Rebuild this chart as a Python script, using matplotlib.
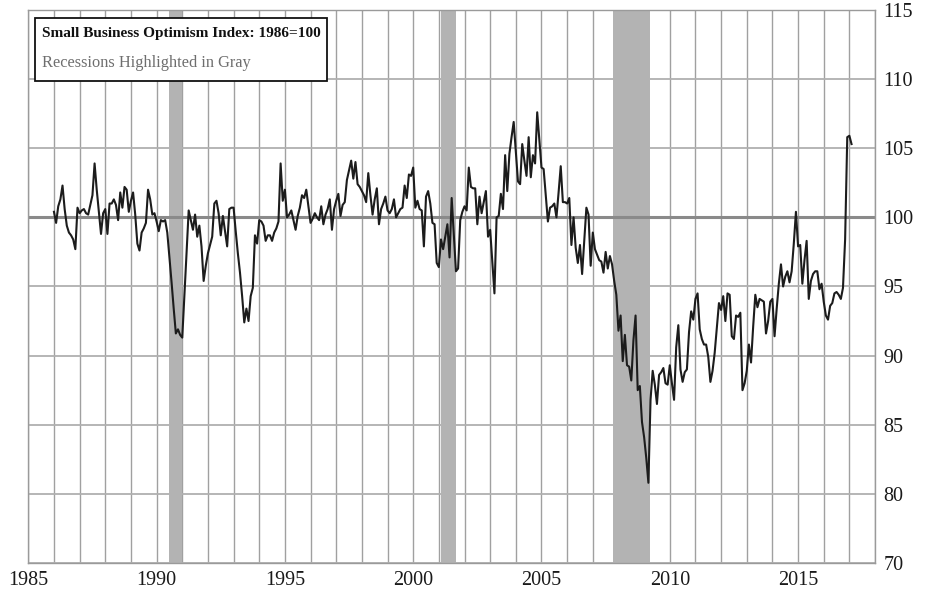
import numpy as np
import matplotlib.pyplot as plt
import matplotlib.patches as mpatches

# NFIB small business optimism index, monthly from Jan 1986 (1986=100)
start_year = 1986
optimism = [
    100.4, 99.6, 100.8, 101.3, 102.3, 100.6, 99.4, 98.9, 98.7, 98.4, 97.7, 100.7,   # 1986
    100.3, 100.5, 100.6, 100.3, 100.2, 100.9, 101.6, 103.9, 102.0, 100.4, 98.8, 100.3,  # 1987
    100.6, 98.8, 101.0, 101.0, 101.3, 100.9, 99.8, 101.8, 100.7, 102.2, 102.0, 100.4,  # 1988
    101.2, 101.8, 100.2, 98.1, 97.6, 98.9, 99.2, 99.6, 102.0, 101.3, 100.2, 100.3,    # 1989
    99.7, 99.0, 99.8, 99.7, 99.8, 98.9, 97.1, 95.3, 93.4, 91.6, 91.9, 91.5,           # 1990
    91.3, 94.3, 97.4, 100.5, 99.8, 99.1, 100.2, 98.6, 99.4, 97.9, 95.4, 96.5,         # 1991
    97.4, 98.0, 98.6, 101.0, 101.2, 100.3, 98.7, 100.1, 99.0, 97.9, 100.6, 100.7,     # 1992
    100.7, 99.0, 97.4, 96.0, 94.3, 92.4, 93.4, 92.5, 94.3, 94.9, 98.7, 98.1,          # 1993
    99.8, 99.7, 99.4, 98.3, 98.7, 98.7, 98.3, 98.9, 99.2, 99.7, 103.9, 101.2,         # 1994
    102.0, 100.0, 100.2, 100.5, 99.8, 99.1, 100.1, 100.7, 101.6, 101.4, 102.0, 100.8,  # 1995
    99.6, 99.9, 100.3, 100.0, 99.8, 100.8, 99.5, 100.2, 100.6, 101.3, 99.1, 100.6,    # 1996
    101.2, 101.7, 100.1, 100.9, 101.1, 102.7, 103.4, 104.1, 102.8, 104.0, 102.4, 102.2,  # 1997
    101.9, 101.6, 101.1, 103.2, 101.6, 100.2, 101.3, 102.1, 99.5, 100.6, 101.0, 101.5,  # 1998
    100.5, 100.3, 100.6, 101.3, 100.0, 100.3, 100.6, 100.7, 102.3, 101.4, 103.1, 103.0,  # 1999
    103.6, 100.7, 101.2, 100.6, 100.5, 97.9, 101.5, 101.9, 101.0, 99.6, 99.5, 96.7,    # 2000
    96.4, 98.4, 97.7, 98.6, 99.5, 97.1, 101.4, 98.8, 96.1, 96.3, 99.8, 100.4,          # 2001
    100.8, 100.5, 103.6, 102.2, 102.1, 102.1, 99.5, 101.5, 100.3, 101.1, 101.9, 98.6,  # 2002
    99.1, 96.8, 94.5, 100.0, 100.1, 101.7, 100.6, 104.5, 101.9, 104.6, 105.8, 106.9,   # 2003
    104.7, 102.6, 102.4, 105.3, 104.1, 103.0, 105.8, 102.9, 104.5, 103.9, 107.6, 105.6,  # 2004
    103.6, 103.5, 101.6, 99.7, 100.7, 100.8, 101.0, 100.0, 101.8, 103.7, 101.1, 101.1,  # 2005
    101.0, 101.4, 98.0, 100.0, 97.8, 96.7, 98.0, 95.9, 98.3, 100.7, 100.2, 96.5,       # 2006
    98.9, 97.7, 97.3, 96.9, 96.8, 96.0, 97.5, 96.3, 97.2, 96.6, 95.4, 94.4,            # 2007
    91.8, 92.9, 89.6, 91.5, 89.3, 89.2, 88.2, 91.1, 92.9, 87.5, 87.8, 85.2,            # 2008
    84.1, 82.6, 80.8, 86.8, 88.9, 87.9, 86.5, 88.6, 88.8, 89.1, 88.0, 87.9,            # 2009
    89.3, 88.0, 86.8, 90.6, 92.2, 89.0, 88.1, 88.8, 89.0, 91.7, 93.2, 92.6,            # 2010
    94.1, 94.5, 91.9, 91.2, 90.8, 90.8, 89.9, 88.1, 88.9, 90.2, 92.0, 93.8,            # 2011
    93.3, 94.3, 92.5, 94.5, 94.4, 91.4, 91.2, 92.9, 92.8, 93.1, 87.5, 88.0,            # 2012
    88.9, 90.8, 89.5, 92.1, 94.4, 93.5, 94.1, 94.0, 93.9, 91.6, 92.5, 93.9,            # 2013
    94.1, 91.4, 93.4, 95.2, 96.6, 95.0, 95.7, 96.1, 95.3, 96.1, 98.1, 100.4,           # 2014
    97.9, 98.0, 95.2, 96.9, 98.3, 94.1, 95.4, 95.9, 96.1, 96.1, 94.8, 95.2,            # 2015
    93.9, 92.9, 92.6, 93.6, 93.8, 94.5, 94.6, 94.4, 94.1, 94.9, 98.4, 105.8,           # 2016
    105.9, 105.3,                                                                       # 2017
]

# recession spans (decimal years)
recession_start = [1990.5, 2001.1, 2007.78]
recession_end = [1991.0, 2001.67, 2009.23]

x_tick_years = [1985, 1990, 1995, 2000, 2005, 2010, 2015]
y_ticks = [75, 80, 85, 90, 95, 100, 105, 110, 115]
y_tick_labels = ['70', '80', '85', '90', '95', '100', '105', '110', '115']

title_text = 'Small Business Optimism Index: 1986=100'
note_text = 'Recessions Highlighted in Gray'

serif = ['Liberation Serif', 'DejaVu Serif']

months = start_year + np.arange(len(optimism)) / 12.0

fig = plt.figure(figsize=(9.25, 5.9), dpi=100)
ax = fig.add_axes([0.0306, 0.0458, 0.9154, 0.9373])

# recession shading
for s, e in zip(recession_start, recession_end):
    ax.axvspan(s, e, color='#b3b3b3', lw=0, zorder=1)

# grid: every year vertically, every 5 points horizontally
ax.set_xticks(x_tick_years)
ax.set_xticks(range(1985, 2019), minor=True)
ax.set_yticks(y_ticks)
ax.set_yticklabels(y_tick_labels)
ax.grid(True, which='both', axis='x', color='#a0a0a0', lw=1.0, zorder=2)
ax.grid(True, which='major', axis='y', color='#b0b0b0', lw=1.3, zorder=2)
ax.set_axisbelow(True)
ax.axhline(100, color='#8a8a8a', lw=2.2, zorder=2.5)

ax.plot(months, optimism, color='#1c1c1c', lw=1.5, zorder=4)

ax.set_xlim(1985, 2018)
ax.set_ylim(75, 115)

ax.yaxis.tick_right()
ax.tick_params(which='both', length=0)
ax.tick_params(axis='x', pad=6)
ax.tick_params(axis='y', pad=6)
for lab in ax.get_xticklabels() + ax.get_yticklabels():
    lab.set_family(serif)
    lab.set_fontsize(14.5)
    lab.set_color('#1a1a1a')

for sp in ax.spines.values():
    sp.set_color('#9a9a9a')
    sp.set_linewidth(1.0)

# title box in the upper-left corner
box = mpatches.Rectangle((0.0079, 0.8716), 0.3449, 0.1139, transform=ax.transAxes,
                         facecolor='white', edgecolor='#111111', lw=1.3, zorder=6)
ax.add_patch(box)
ax.text(0.0162, 0.9566, title_text, transform=ax.transAxes, family=serif,
        fontsize=11, fontweight='bold', color='#111111', va='center', ha='left', zorder=7)
ax.text(0.0162, 0.9042, note_text, transform=ax.transAxes, family=serif,
        fontsize=11.8, color='#6e6e6e', va='center', ha='left', zorder=7)

fig.savefig('out.png', dpi=100)
